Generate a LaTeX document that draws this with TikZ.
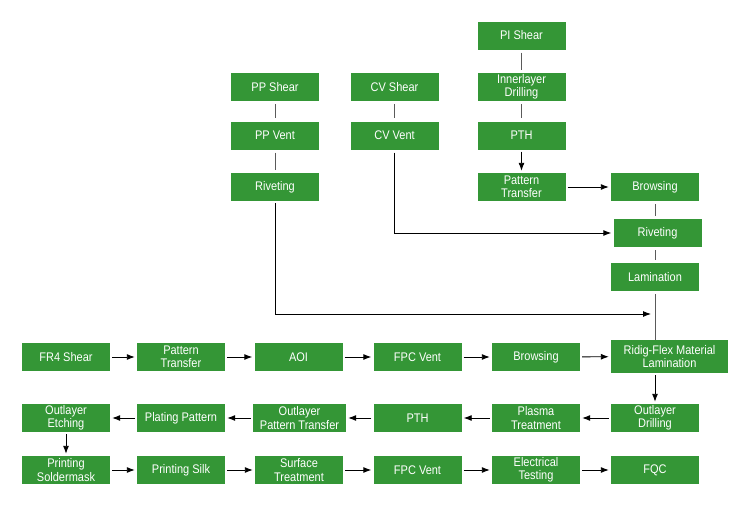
\documentclass[tikz,border=0pt]{standalone}
\usepackage{fontspec}
\setmainfont{Liberation Sans}[FakeStretch=0.88]
\usetikzlibrary{arrows.meta}
\definecolor{boxgreen}{RGB}{52,150,54}
\definecolor{linegray}{RGB}{90,90,90}
\tikzset{
	proc/.style={fill=boxgreen, text=white, minimum width=88pt, minimum height=28pt,
		inner sep=0pt, align=center, font=\fontsize{12.5}{13.5}\selectfont},
	link/.style={draw=linegray, line width=0.9pt, shorten <=3pt, shorten >=3pt},
	flow/.style={draw=black, line width=0.9pt, -{Latex[length=8pt,width=6pt]},
		shorten <=2pt, shorten >=2pt}
}
\begin{document}
\begin{tikzpicture}[x=1pt,y=-1pt]
				\useasboundingbox (0,0) rectangle (750,506);
				% upper branches
				\node[proc] (pis) at (521.5,35.5) {PI Shear};
				\node[proc] (ild) at (521.5,87) {Innerlayer\\Drilling};
				\node[proc] (pth1) at (521.5,135.5) {PTH};
				\node[proc] (ptr1) at (521.5,187) {Pattern\\Transfer};
				\node[proc] (brw1) at (655,187) {Browsing};
				\node[proc] (riv2) at (657.5,233) {Riveting};
				\node[proc] (lam) at (655,277) {Lamination};
				\node[proc] (pps) at (275,87) {PP Shear};
				\node[proc] (ppv) at (275,135.5) {PP Vent};
				\node[proc] (riv1) at (275,187) {Riveting};
				\node[proc] (cvs) at (394.5,87) {CV Shear};
				\node[proc] (cvv) at (394.5,135.5) {CV Vent};
				% main rows
				\node[proc] (fr4) at (66,357) {FR4 Shear};
				\node[proc] (ptr2) at (181,357) {Pattern\\Transfer};
				\node[proc] (aoi) at (298.5,357) {AOI};
				\node[proc] (fpv1) at (417.5,357) {FPC Vent};
				\node[proc] (brw2) at (536,357) {Browsing};
				\node[proc, minimum width=117pt, minimum height=33pt] (rfl) at (669.5,356.5) {Ridig-Flex Material\\Lamination};
				\node[proc] (odr) at (655,418) {Outlayer\\Drilling};
				\node[proc] (pla) at (536,418) {Plasma\\Treatment};
				\node[proc] (pth2) at (417.5,418) {PTH};
				\node[proc, minimum width=93pt] (opt) at (299.5,418) {Outlayer\\Pattern Transfer};
				\node[proc] (plp) at (181,418) {Plating Pattern};
				\node[proc] (oet) at (66,418) {Outlayer\\Etching};
				\node[proc] (psm) at (66,470) {Printing\\Soldermask};
				\node[proc] (psk) at (181,470) {Printing Silk};
				\node[proc] (str) at (299,470) {Surface\\Treatment};
				\node[proc] (fpv2) at (417.5,470) {FPC Vent};
				\node[proc] (elt) at (536,470) {Electrical\\Testing};
				\node[proc] (fqc) at (655,470) {FQC};
				\coordinate (join) at (655,314);
				% connectors
				\draw[link] (pis) -- (ild);
				\draw[link] (ild) -- (pth1);
				\draw[flow] (pth1) -- (ptr1);
				\draw[flow] (ptr1) -- (brw1);
				\draw[link] (brw1) -- (brw1 |- riv2.north);
				\draw[link] (riv2.south -| lam.north) -- (lam);
				\draw[link, shorten >=0pt] (lam) -- (rfl.north -| lam.south);
				\draw[link] (pps) -- (ppv);
				\draw[link] (ppv) -- (riv1);
				\draw[flow, shorten >=4pt] (riv1.south) |- (join);
				\draw[link] (cvs) -- (cvv);
				\draw[flow, shorten <=3pt] (cvv.south) |- (riv2.west);
				\draw[flow] (fr4) -- (ptr2);
				\draw[flow] (ptr2) -- (aoi);
				\draw[flow] (aoi) -- (fpv1);
				\draw[flow] (fpv1) -- (brw2);
				\draw[flow] (brw2) -- (rfl);
				\draw[flow] (rfl.south -| odr.north) -- (odr);
				\draw[flow] (odr) -- (pla);
				\draw[flow] (pla) -- (pth2);
				\draw[flow] (pth2) -- (opt);
				\draw[flow] (opt) -- (plp);
				\draw[flow] (plp) -- (oet);
				\draw[flow] (oet) -- (psm);
				\draw[flow] (psm) -- (psk);
				\draw[flow] (psk) -- (str);
				\draw[flow] (str) -- (fpv2);
				\draw[flow] (fpv2) -- (elt);
				\draw[flow] (elt) -- (fqc);
			\end{tikzpicture}
\end{document}
